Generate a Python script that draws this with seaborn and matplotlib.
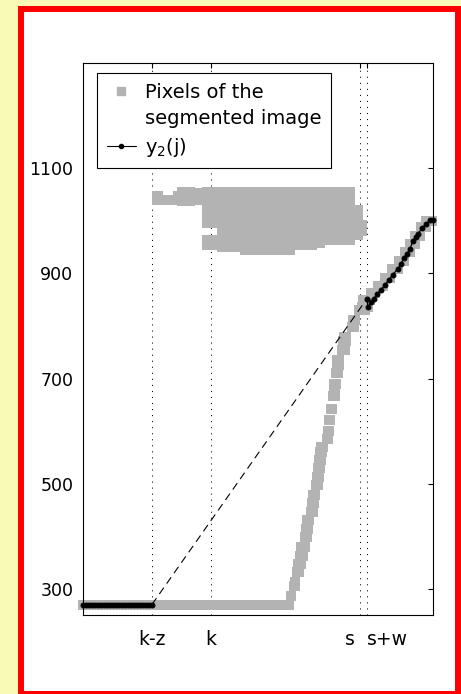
import numpy as np
import pandas as pd
import matplotlib
matplotlib.use('Agg')
import matplotlib.pyplot as plt
import matplotlib.transforms as mtransforms
from matplotlib.lines import Line2D
from matplotlib.patches import Rectangle
import seaborn as sns

# x axis = image column j, y axis = image row
tick_pos = [69, 128, 277, 284]
tick_labels = ['k-z', 'k', 's', 's+w']
y_ticks = [300, 500, 700, 900, 1100]

# bottom band of the segmented image (one row, columns 0..206)
band_x0, band_x1, band_y = 0, 206, 270

# rising edge of the segmented image: row, first column, last column
curve_y = [287, 306, 312, 331, 347, 363, 379, 398, 414, 430, 447, 463, 479,
           497, 513, 529, 545, 561, 570, 585, 601, 622, 643, 667, 683, 690,
           710, 726, 736, 755, 771, 780, 799, 811, 830, 837,
           850, 862, 876, 892, 908, 924, 940, 956, 972, 988, 1000]
curve_x0 = [208, 211, 212, 214, 215, 217, 218, 222, 223, 224, 228, 229, 230,
            233, 234, 235, 236, 237, 238, 244, 245, 246, 248, 250, 251, 251,
            253, 254, 254, 259, 260, 261, 269, 270, 276, 279,
            280, 288, 295, 302, 309, 316, 322, 327, 332, 338, 343]
curve_x1 = [208, 212, 212, 216, 218, 220, 222, 224, 225, 226, 230, 231, 232,
            235, 236, 237, 238, 239, 240, 245, 246, 247, 249, 252, 252, 253,
            255, 256, 256, 262, 263, 263, 271, 272, 282, 285,
            287, 292, 300, 307, 315, 321, 327, 332, 337, 343, 349]

# upper blob of the segmented image: column blocks x0..x1, rows lo..hi
blob_x0 = [74, 80, 95, 99, 107, 124, 124, 139, 162, 207, 229, 237, 267, 275]
blob_x1 = [75, 90, 99, 107, 124, 139, 139, 162, 207, 229, 237, 267, 275, 279]
blob_lo = [1040, 1040, 1041, 1037, 1040, 997, 955, 950, 944, 954, 958, 964, 973, 981]
blob_hi = [1048, 1040, 1047, 1055, 1053, 1055, 964, 1055, 1055, 1055, 1036, 1055, 1020, 992]

# y2(j): measured part left of k-z and right of s+w
y2_left_x = [0, 3, 6, 9, 12, 15, 18, 21, 24, 27, 30, 33, 36, 39, 42, 45,
             48, 51, 54, 57, 60, 63, 66, 69]
y2_left_y = [270] * len(y2_left_x)
y2_right_x = [284, 285, 288, 291, 294, 298, 302, 306, 310, 315, 318, 321,
              324, 327, 330, 333, 335, 339, 343, 347, 350]
y2_right_y = [852, 836, 845, 852, 860, 869, 878, 888, 898, 909, 918, 929,
              938, 946, 962, 970, 975, 986, 994, 1001, 1002]


def run(a, b, step):
    n = int(np.ceil((b - a) / step)) + 1
    return np.linspace(a, b, n)


# pixel centres of the segmented image
px, py = [], []
for x in run(band_x0, band_x1, 4):
    px.append(x); py.append(band_y)
for y, a, b in zip(curve_y, curve_x0, curve_x1):
    for x in run(a, b, 3):
        px.append(x); py.append(y)
for a, b, lo, hi in zip(blob_x0, blob_x1, blob_lo, blob_hi):
    for x in run(a, b, 4):
        for y in run(lo, hi, 8):
            px.append(x); py.append(y)
pixels = pd.DataFrame({'x': px, 'y': py})

sns.set_style('white')
plt.rcParams['font.family'] = ['DejaVu Sans']
plt.rcParams['text.color'] = 'k'

gray = '#b3b3b3'
fig = plt.figure(figsize=(4.61, 6.94), dpi=100, facecolor='#f9fab6')
fig.add_artist(Rectangle((0.0456, 0.0), 0.948, 0.987, transform=fig.transFigure,
                         facecolor='white', edgecolor='#ff0000', lw=4.3, zorder=-1))
ax = fig.add_axes([0.180, 0.1138, 0.759, 0.795])
ax.set_facecolor('white')

# dotted markers for k-z, k, s, s+w
for xp in tick_pos:
    ax.axvline(xp, color='k', lw=0.75, ls=(0, (1, 4.8)), zorder=1)

sns.scatterplot(data=pixels, x='x', y='y', marker='s', s=52, color=gray,
                linewidth=0, clip_on=False, legend=False, ax=ax, zorder=2)

# linear interpolation between k-z and s+w
sns.lineplot(x=[y2_left_x[-1], y2_right_x[0]], y=[y2_left_y[-1], y2_right_y[0]],
             color='k', lw=0.8, linestyle=(0, (7, 4.5)), ax=ax, zorder=3)

for xs, ys in [(y2_left_x, y2_left_y), (y2_right_x, y2_right_y)]:
    sns.lineplot(x=xs, y=ys, color='k', lw=0.9, marker='o', markersize=3.5,
                 markeredgecolor='k', sort=False, estimator=None,
                 clip_on=False, ax=ax, zorder=4)

ax.set_xlim(0, 350)
ax.set_ylim(250, 1300)
ax.set_xticks(tick_pos)
ax.set_xticklabels(tick_labels)
ax.set_yticks(y_ticks)
ax.set_xlabel('')
ax.set_ylabel('')
ax.tick_params(direction='in', length=3.6, width=0.8, top=True, right=True,
               colors='k')
ax.tick_params(axis='x', pad=11, labelsize=13.5)
ax.tick_params(axis='y', pad=7, labelsize=12.5)
for sp in ax.spines.values():
    sp.set_color('k')
    sp.set_linewidth(0.8)

xl = ax.get_xticklabels()
xl[2].set_ha('right')
xl[2].set_transform(xl[2].get_transform() +
                    mtransforms.ScaledTranslation(-4 / 72, 0, fig.dpi_scale_trans))
xl[3].set_ha('left')

# MATLAB-style legend: marker sits on the first line of the two-line label
handles = [Line2D([], [], ls='none', marker='s', ms=5.5, mfc=gray, mec=gray),
           Line2D([], [], ls='none', marker=None),
           Line2D([], [], color='k', lw=0.8, marker='o', ms=3, mec='k')]
labels = ['Pixels of the', 'segmented image', 'y$_\\mathregular{2}$(j)']
leg = ax.legend(handles, labels, loc='upper left', bbox_to_anchor=(0.04, 0.982),
                borderaxespad=0, fancybox=False, framealpha=1, edgecolor='k',
                fontsize=14, handlelength=1.5, handletextpad=0.45,
                labelspacing=0.38, borderpad=0.5)
leg.get_frame().set_linewidth(0.8)

fig.savefig('out.png', dpi=100, facecolor=fig.get_facecolor())
